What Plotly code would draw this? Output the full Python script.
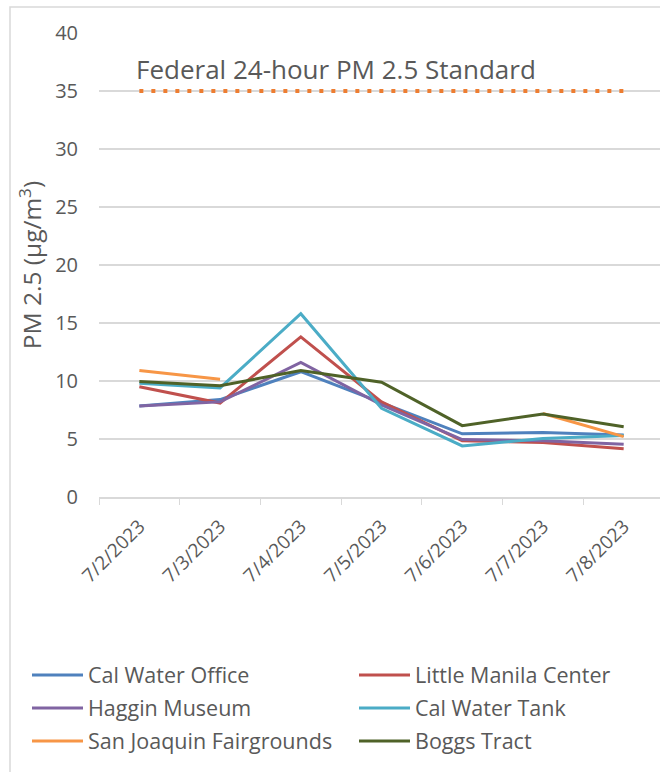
import plotly.graph_objects as go

dates = ["7/2/2023", "7/3/2023", "7/4/2023", "7/5/2023", "7/6/2023", "7/7/2023", "7/8/2023"]
cal_water_office = [7.85, 8.4, 10.8, 8.1, 5.45, 5.55, 5.35]
little_manila = [9.5, 8.1, 13.8, 8.2, 4.85, 4.7, 4.15]
haggin_museum = [7.85, 8.2, 11.6, 7.95, 4.95, 4.85, 4.55]
cal_water_tank = [9.8, 9.4, 15.8, 7.65, 4.4, 5.05, 5.3]
sj_fairgrounds = [10.9, 10.15, None, None, None, 7.2, 5.2]
boggs_tract = [9.95, 9.6, 10.9, 9.9, 6.15, 7.15, 6.05]
federal_standard = [35, 35, 35, 35, 35, 35, 35]

series_names = ["Cal Water Office", "Little Manila Center", "Haggin Museum",
                "Cal Water Tank", "San Joaquin Fairgrounds", "Boggs Tract"]
series_values = [cal_water_office, little_manila, haggin_museum,
                 cal_water_tank, sj_fairgrounds, boggs_tract]
series_colors = ["#4F81BD", "#C0504D", "#8064A2", "#4BACC6", "#F79646", "#4F6228"]

FONT = "Open Sans, Noto Sans, sans-serif"
GREY = "#595959"

L, R, T, B = 99, 0, 33, 275
W, H = 660, 772
pw = W - L - R
ph = H - T - B

def px_x(p):
    return (p - L) / pw

def px_y(p):
    return (H - B - p) / ph

fig = go.Figure()
fig.add_trace(go.Scatter(
    x=dates, y=federal_standard, mode="lines", showlegend=False,
    line=dict(color="#ED7D31", width=4, dash="4px,8px"), hoverinfo="skip"))

legend_ids = ["legend", "legend2", "legend3", "legend4", "legend5", "legend6"]
col_x = [27, 354]
row_y = [675, 708, 741]
legend_layout = {}
for i, (name, vals, color) in enumerate(zip(series_names, series_values, series_colors)):
    lg = legend_ids[i]
    fig.add_trace(go.Scatter(
        x=dates, y=vals, name=name, mode="lines", legend=lg,
        line=dict(color=color, width=3), connectgaps=False))
    legend_layout[lg] = dict(
        x=px_x(col_x[i % 2]), y=px_y(row_y[i // 2]),
        xanchor="left", yanchor="middle", orientation="h",
        font=dict(family=FONT, size=21.5, color=GREY),
        bgcolor="rgba(0,0,0,0)", itemwidth=51,
    )

fig.add_annotation(
    x=px_x(134), y=px_y(69), xref="paper", yref="paper",
    text="Federal 24-hour PM 2.5 Standard", showarrow=False,
    xanchor="left", yanchor="middle",
    font=dict(family=FONT, size=26, color=GREY))

fig.add_shape(type="rect", xref="paper", yref="paper",
              x0=px_x(10), x1=px_x(700), y0=px_y(7), y1=px_y(800),
              line=dict(color="#D9D9D9", width=1.5), layer="below")

fig.update_layout(**legend_layout)

fig.update_layout(
    width=W, height=H,
    margin=dict(l=L, r=R, t=T, b=B),
    paper_bgcolor="white", plot_bgcolor="white",
    font=dict(family=FONT, size=20, color=GREY),
    showlegend=True,
    xaxis=dict(
        type="category", range=[-0.5, 6.45], tickangle=-45,
        showgrid=False, showline=True, linecolor="#D9D9D9", linewidth=1.5,
        ticks="outside", ticklen=6, tickcolor="#D9D9D9", tickson="boundaries",
        ticklabelstandoff=9,
        tickfont=dict(family=FONT, size=19, color=GREY),
    ),
    yaxis=dict(
        range=[0, 40], dtick=5, showgrid=True, gridcolor="#D9D9D9", gridwidth=1.5,
        zeroline=False, showline=False, ticks="", ticklabelstandoff=20,
        tickfont=dict(family=FONT, size=20, color=GREY),
        title=dict(text="PM 2.5 (µg/m<sup>3</sup>)", standoff=6,
                   font=dict(family=FONT, size=24.5, color=GREY)),
    ),
)

fig.write_html("out.html", config={"displayModeBar": False},
               post_script="document.body.style.margin='0px';")
